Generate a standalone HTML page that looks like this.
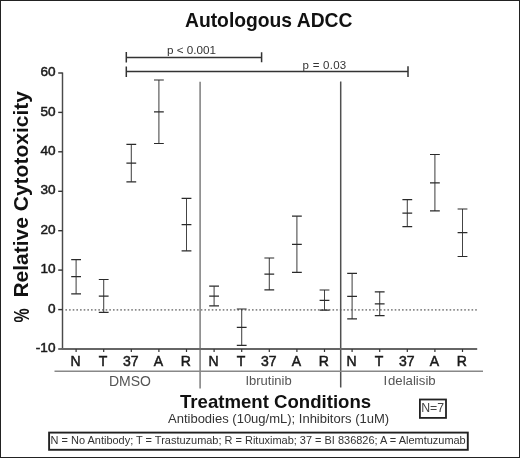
<!DOCTYPE html>
<html><head><meta charset="utf-8"><style>
html,body{margin:0;padding:0;background:#fff;}
svg{display:block;-webkit-font-smoothing:antialiased;will-change:transform;font-family:"Liberation Sans", sans-serif;}
</style></head><body>
<svg width="520" height="458" viewBox="0 0 520 458">
<rect x="0" y="0" width="520" height="458" fill="#fff"/>
<rect x="0.5" y="0.5" width="519" height="457" fill="none" stroke="#222" stroke-width="1"/>
<path d="M65.4 309.9H476.8" stroke="#8a8a8a" stroke-width="1.6" stroke-dasharray="1.6 2.059"/>
<path d="M200.1 81.8V388.4" stroke="#858585" stroke-width="1.6"/>
<path d="M340.7 81.5V387.6" stroke="#505050" stroke-width="1.5"/>
<path d="M76.1 259.7V293.8" stroke="#444" stroke-width="1.05" fill="none"/>
<path d="M71.2 259.7H81.0M71.2 276.7H81.0M71.2 293.8H81.0" stroke="#2a2a2a" stroke-width="1.2" fill="none"/>
<path d="M103.7 279.5V312.3" stroke="#444" stroke-width="1.05" fill="none"/>
<path d="M98.8 279.5H108.6M98.8 296.2H108.6M98.8 312.3H108.6" stroke="#2a2a2a" stroke-width="1.2" fill="none"/>
<path d="M131.3 144.4V181.8" stroke="#444" stroke-width="1.05" fill="none"/>
<path d="M126.4 144.4H136.2M126.4 163.2H136.2M126.4 181.8H136.2" stroke="#2a2a2a" stroke-width="1.2" fill="none"/>
<path d="M158.9 80.0V143.5" stroke="#444" stroke-width="1.05" fill="none"/>
<path d="M154.0 80.0H163.8M154.0 111.9H163.8M154.0 143.5H163.8" stroke="#2a2a2a" stroke-width="1.2" fill="none"/>
<path d="M186.5 198.4V250.8" stroke="#444" stroke-width="1.05" fill="none"/>
<path d="M181.6 198.4H191.4M181.6 224.7H191.4M181.6 250.8H191.4" stroke="#2a2a2a" stroke-width="1.2" fill="none"/>
<path d="M214.1 286.2V305.8" stroke="#444" stroke-width="1.05" fill="none"/>
<path d="M209.2 286.2H219.0M209.2 296.2H219.0M209.2 305.8H219.0" stroke="#2a2a2a" stroke-width="1.2" fill="none"/>
<path d="M241.7 309.0V345.4" stroke="#444" stroke-width="1.05" fill="none"/>
<path d="M236.8 309.0H246.6M236.8 327.3H246.6M236.8 345.4H246.6" stroke="#2a2a2a" stroke-width="1.2" fill="none"/>
<path d="M269.3 258.0V289.9" stroke="#444" stroke-width="1.05" fill="none"/>
<path d="M264.4 258.0H274.2M264.4 274.2H274.2M264.4 289.9H274.2" stroke="#2a2a2a" stroke-width="1.2" fill="none"/>
<path d="M296.9 216.2V272.4" stroke="#444" stroke-width="1.05" fill="none"/>
<path d="M292.0 216.2H301.8M292.0 244.3H301.8M292.0 272.4H301.8" stroke="#2a2a2a" stroke-width="1.2" fill="none"/>
<path d="M324.5 290.0V310.2" stroke="#444" stroke-width="1.05" fill="none"/>
<path d="M319.6 290.0H329.4M319.6 300.3H329.4M319.6 310.2H329.4" stroke="#2a2a2a" stroke-width="1.2" fill="none"/>
<path d="M352.1 273.4V318.9" stroke="#444" stroke-width="1.05" fill="none"/>
<path d="M347.2 273.4H357.0M347.2 296.3H357.0M347.2 318.9H357.0" stroke="#2a2a2a" stroke-width="1.2" fill="none"/>
<path d="M379.7 291.8V315.6" stroke="#444" stroke-width="1.05" fill="none"/>
<path d="M374.8 291.8H384.6M374.8 303.8H384.6M374.8 315.6H384.6" stroke="#2a2a2a" stroke-width="1.2" fill="none"/>
<path d="M407.3 199.6V226.6" stroke="#444" stroke-width="1.05" fill="none"/>
<path d="M402.4 199.6H412.2M402.4 213.2H412.2M402.4 226.6H412.2" stroke="#2a2a2a" stroke-width="1.2" fill="none"/>
<path d="M434.9 154.5V210.9" stroke="#444" stroke-width="1.05" fill="none"/>
<path d="M430.0 154.5H439.8M430.0 182.8H439.8M430.0 210.9H439.8" stroke="#2a2a2a" stroke-width="1.2" fill="none"/>
<path d="M462.5 209.0V256.5" stroke="#444" stroke-width="1.05" fill="none"/>
<path d="M457.6 209.0H467.4M457.6 232.7H467.4M457.6 256.5H467.4" stroke="#2a2a2a" stroke-width="1.2" fill="none"/>
<path d="M62.5 72.6V349.0" stroke="#4a4a4a" stroke-width="1.45"/>
<path d="M58.2 349.0H62.5" stroke="#333" stroke-width="1.4"/>
<text x="55.5" y="352.1" text-anchor="end" font-size="13.6" fill="#1a1a1a" stroke="#1a1a1a" stroke-width="0.5">-10</text>
<path d="M58.2 309.6H62.5" stroke="#333" stroke-width="1.4"/>
<text x="55.5" y="312.7" text-anchor="end" font-size="13.6" fill="#1a1a1a" stroke="#1a1a1a" stroke-width="0.5">0</text>
<path d="M58.2 270.1H62.5" stroke="#333" stroke-width="1.4"/>
<text x="55.5" y="273.2" text-anchor="end" font-size="13.6" fill="#1a1a1a" stroke="#1a1a1a" stroke-width="0.5">10</text>
<path d="M58.2 230.7H62.5" stroke="#333" stroke-width="1.4"/>
<text x="55.5" y="233.8" text-anchor="end" font-size="13.6" fill="#1a1a1a" stroke="#1a1a1a" stroke-width="0.5">20</text>
<path d="M58.2 191.3H62.5" stroke="#333" stroke-width="1.4"/>
<text x="55.5" y="194.4" text-anchor="end" font-size="13.6" fill="#1a1a1a" stroke="#1a1a1a" stroke-width="0.5">30</text>
<path d="M58.2 151.8H62.5" stroke="#333" stroke-width="1.4"/>
<text x="55.5" y="154.9" text-anchor="end" font-size="13.6" fill="#1a1a1a" stroke="#1a1a1a" stroke-width="0.5">40</text>
<path d="M58.2 112.4H62.5" stroke="#333" stroke-width="1.4"/>
<text x="55.5" y="115.5" text-anchor="end" font-size="13.6" fill="#1a1a1a" stroke="#1a1a1a" stroke-width="0.5">50</text>
<path d="M58.2 73.0H62.5" stroke="#333" stroke-width="1.4"/>
<text x="55.5" y="76.1" text-anchor="end" font-size="13.6" fill="#1a1a1a" stroke="#1a1a1a" stroke-width="0.5">60</text>
<path d="M61.8 349.0H477.2" stroke="#666" stroke-width="2"/>
<path d="M76.1 349.0V352.0" stroke="#333" stroke-width="1.2"/>
<text x="75.5" y="365.8" text-anchor="middle" font-size="14" fill="#1a1a1a" stroke="#1a1a1a" stroke-width="0.5">N</text>
<path d="M103.7 349.0V352.0" stroke="#333" stroke-width="1.2"/>
<text x="103.1" y="365.8" text-anchor="middle" font-size="14" fill="#1a1a1a" stroke="#1a1a1a" stroke-width="0.5">T</text>
<path d="M131.3 349.0V352.0" stroke="#333" stroke-width="1.2"/>
<text x="130.7" y="365.8" text-anchor="middle" font-size="14" fill="#1a1a1a" stroke="#1a1a1a" stroke-width="0.5">37</text>
<path d="M158.9 349.0V352.0" stroke="#333" stroke-width="1.2"/>
<text x="158.3" y="365.8" text-anchor="middle" font-size="14" fill="#1a1a1a" stroke="#1a1a1a" stroke-width="0.5">A</text>
<path d="M186.5 349.0V352.0" stroke="#333" stroke-width="1.2"/>
<text x="185.9" y="365.8" text-anchor="middle" font-size="14" fill="#1a1a1a" stroke="#1a1a1a" stroke-width="0.5">R</text>
<path d="M214.1 349.0V352.0" stroke="#333" stroke-width="1.2"/>
<text x="213.5" y="365.8" text-anchor="middle" font-size="14" fill="#1a1a1a" stroke="#1a1a1a" stroke-width="0.5">N</text>
<path d="M241.7 349.0V352.0" stroke="#333" stroke-width="1.2"/>
<text x="241.1" y="365.8" text-anchor="middle" font-size="14" fill="#1a1a1a" stroke="#1a1a1a" stroke-width="0.5">T</text>
<path d="M269.3 349.0V352.0" stroke="#333" stroke-width="1.2"/>
<text x="268.7" y="365.8" text-anchor="middle" font-size="14" fill="#1a1a1a" stroke="#1a1a1a" stroke-width="0.5">37</text>
<path d="M296.9 349.0V352.0" stroke="#333" stroke-width="1.2"/>
<text x="296.3" y="365.8" text-anchor="middle" font-size="14" fill="#1a1a1a" stroke="#1a1a1a" stroke-width="0.5">A</text>
<path d="M324.5 349.0V352.0" stroke="#333" stroke-width="1.2"/>
<text x="323.9" y="365.8" text-anchor="middle" font-size="14" fill="#1a1a1a" stroke="#1a1a1a" stroke-width="0.5">R</text>
<path d="M352.1 349.0V352.0" stroke="#333" stroke-width="1.2"/>
<text x="351.5" y="365.8" text-anchor="middle" font-size="14" fill="#1a1a1a" stroke="#1a1a1a" stroke-width="0.5">N</text>
<path d="M379.7 349.0V352.0" stroke="#333" stroke-width="1.2"/>
<text x="379.1" y="365.8" text-anchor="middle" font-size="14" fill="#1a1a1a" stroke="#1a1a1a" stroke-width="0.5">T</text>
<path d="M407.3 349.0V352.0" stroke="#333" stroke-width="1.2"/>
<text x="406.7" y="365.8" text-anchor="middle" font-size="14" fill="#1a1a1a" stroke="#1a1a1a" stroke-width="0.5">37</text>
<path d="M434.9 349.0V352.0" stroke="#333" stroke-width="1.2"/>
<text x="434.3" y="365.8" text-anchor="middle" font-size="14" fill="#1a1a1a" stroke="#1a1a1a" stroke-width="0.5">A</text>
<path d="M462.5 349.0V352.0" stroke="#333" stroke-width="1.2"/>
<text x="461.9" y="365.8" text-anchor="middle" font-size="14" fill="#1a1a1a" stroke="#1a1a1a" stroke-width="0.5">R</text>
<path d="M54.5 371.3H483" stroke="#888" stroke-width="1.5"/>
<text x="129.9" y="385.5" text-anchor="middle" font-size="14" fill="#555">DMSO</text>
<text x="268.5" y="385.3" text-anchor="middle" font-size="13" fill="#555">Ibrutinib</text>
<text y="385.3" font-size="13.2" fill="#555"><tspan x="383.5">I</tspan><tspan x="388.0">delalisib</tspan></text>
<text x="185" y="26.7" font-weight="bold" font-size="19.3" fill="#111">Autologous ADCC</text>
<text transform="translate(28.9 322.6) rotate(-90) scale(0.76 1.03)" font-weight="bold" font-size="21" fill="#111">%</text>
<text transform="translate(27.8 297.6) rotate(-90)" font-weight="bold" font-size="21" fill="#111">Relative Cytotoxicity</text>
<text x="180" y="407.5" font-weight="bold" font-size="18.6" fill="#111">Treatment Conditions</text>
<text x="168" y="423.2" font-size="13" fill="#333">Antibodies (10ug/mL); Inhibitors (1uM)</text>
<path d="M126.3 57.5H261.6M126.3 52.1V62.5M261.6 52.3V62.3" stroke="#333" stroke-width="1.5"/>
<path d="M126.3 71.4H408.0M126.3 66.5V76.9M408.0 66.3V76.9" stroke="#333" stroke-width="1.5"/>
<text x="167" y="54.2" font-size="11.7" fill="#333">p &lt; 0.001</text>
<text x="302.6" y="69.0" font-size="11.5" letter-spacing="0.25" fill="#333">p = 0.03</text>
<rect x="419.9" y="399.5" width="26.1" height="18.4" fill="none" stroke="#222" stroke-width="1.8"/>
<text x="421.2" y="411.6" font-size="12.3" fill="#444">N=7</text>
<rect x="49.1" y="432.6" width="418.7" height="17.2" fill="none" stroke="#222" stroke-width="1.9"/>
<text x="50.6" y="443.8" font-size="10.97" fill="#333">N = No Antibody; T = Trastuzumab; R = Rituximab; 37 = BI 836826; A = Alemtuzumab</text>
</svg>
</body></html>
